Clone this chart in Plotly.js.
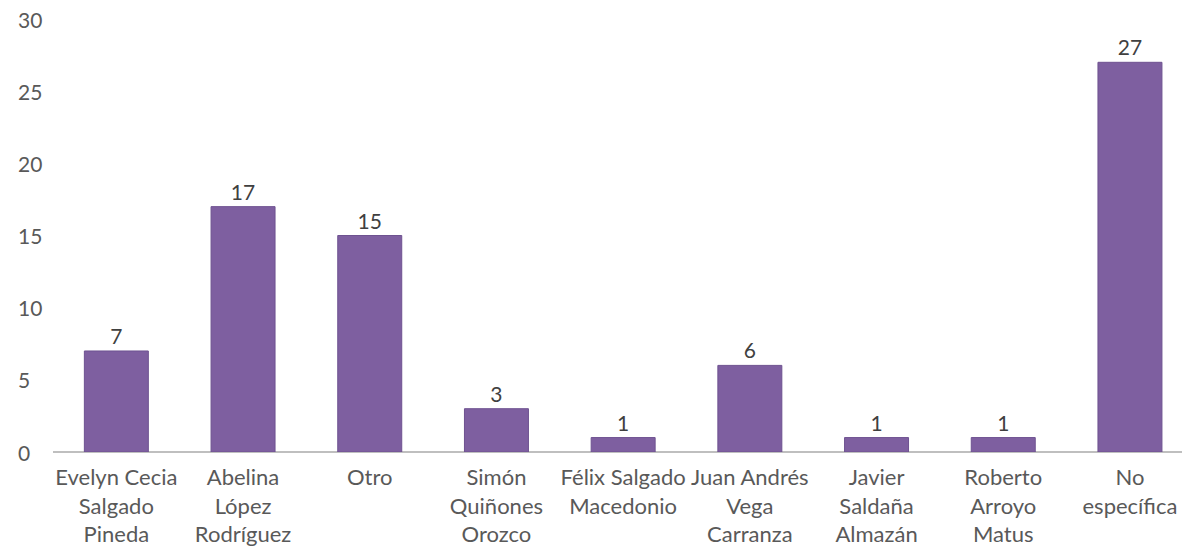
<!DOCTYPE html>
<html>
<head>
<meta charset="utf-8">
<script src="https://cdn.plot.ly/plotly-3.0.1.min.js"></script>
<style>
  html, body { margin: 0; padding: 0; background: #ffffff; }
  #chart { width: 1182px; height: 552px; }
</style>
</head>
<body>
<div id="chart"></div>
<script>
const categories = [
  "Evelyn Cecia<br>Salgado<br>Pineda",
  "Abelina<br>López<br>Rodríguez",
  "Otro",
  "Simón<br>Quiñones<br>Orozco",
  "Félix Salgado<br>Macedonio",
  "Juan Andrés<br>Vega<br>Carranza",
  "Javier<br>Saldaña<br>Almazán",
  "Roberto<br>Arroyo<br>Matus",
  "No<br>específica"
];
const values = [7, 17, 15, 3, 1, 6, 1, 1, 27];
const yTicks = [0, 5, 10, 15, 20, 25, 30];

const fontFamily = "Lato, 'Open Sans', sans-serif";
const W = 1182, H = 552;
const M = { l: 53, r: 0, t: 19, b: 100 };
const PW = W - M.l - M.r;

const trace = {
  type: "bar",
  x: categories.map((c, i) => i),
  y: values,
  width: 0.505,
  marker: { color: "#7E5FA0", line: { color: "#6e5290", width: 1 } },
  text: values.map(String),
  textposition: "outside",
  cliponaxis: false,
  textfont: { family: fontFamily, size: 21, color: "#404040" },
  hoverinfo: "skip"
};

const annotations = yTicks.map(v => ({
  xref: "paper", yref: "y", x: 0, y: v, xshift: -37,
  xanchor: "left", yanchor: "middle", showarrow: false,
  text: String(v),
  font: { family: fontFamily, size: 21, color: "#595959" }
}));

const layout = {
  width: W,
  height: H,
  margin: M,
  paper_bgcolor: "#ffffff",
  plot_bgcolor: "rgba(0,0,0,0)",
  showlegend: false,
  annotations: annotations,
  xaxis: {
    type: "linear",
    range: [-0.5, -0.5 + PW / 126.7],
    tickmode: "array",
    tickvals: categories.map((c, i) => i),
    ticktext: categories,
    showgrid: false,
    zeroline: false,
    showline: false,
    ticks: "",
    ticklabelstandoff: 10,
    tickfont: { family: fontFamily, size: 22, color: "#595959" },
    fixedrange: true
  },
  yaxis: {
    range: [0, 30],
    showticklabels: false,
    showgrid: false,
    zeroline: true,
    zerolinecolor: "#bfbfbf",
    zerolinewidth: 2.5,
    showline: false,
    ticks: "",
    fixedrange: true
  }
};

Plotly.newPlot("chart", [trace], layout, { displayModeBar: false, staticPlot: true });
</script>
</body>
</html>
